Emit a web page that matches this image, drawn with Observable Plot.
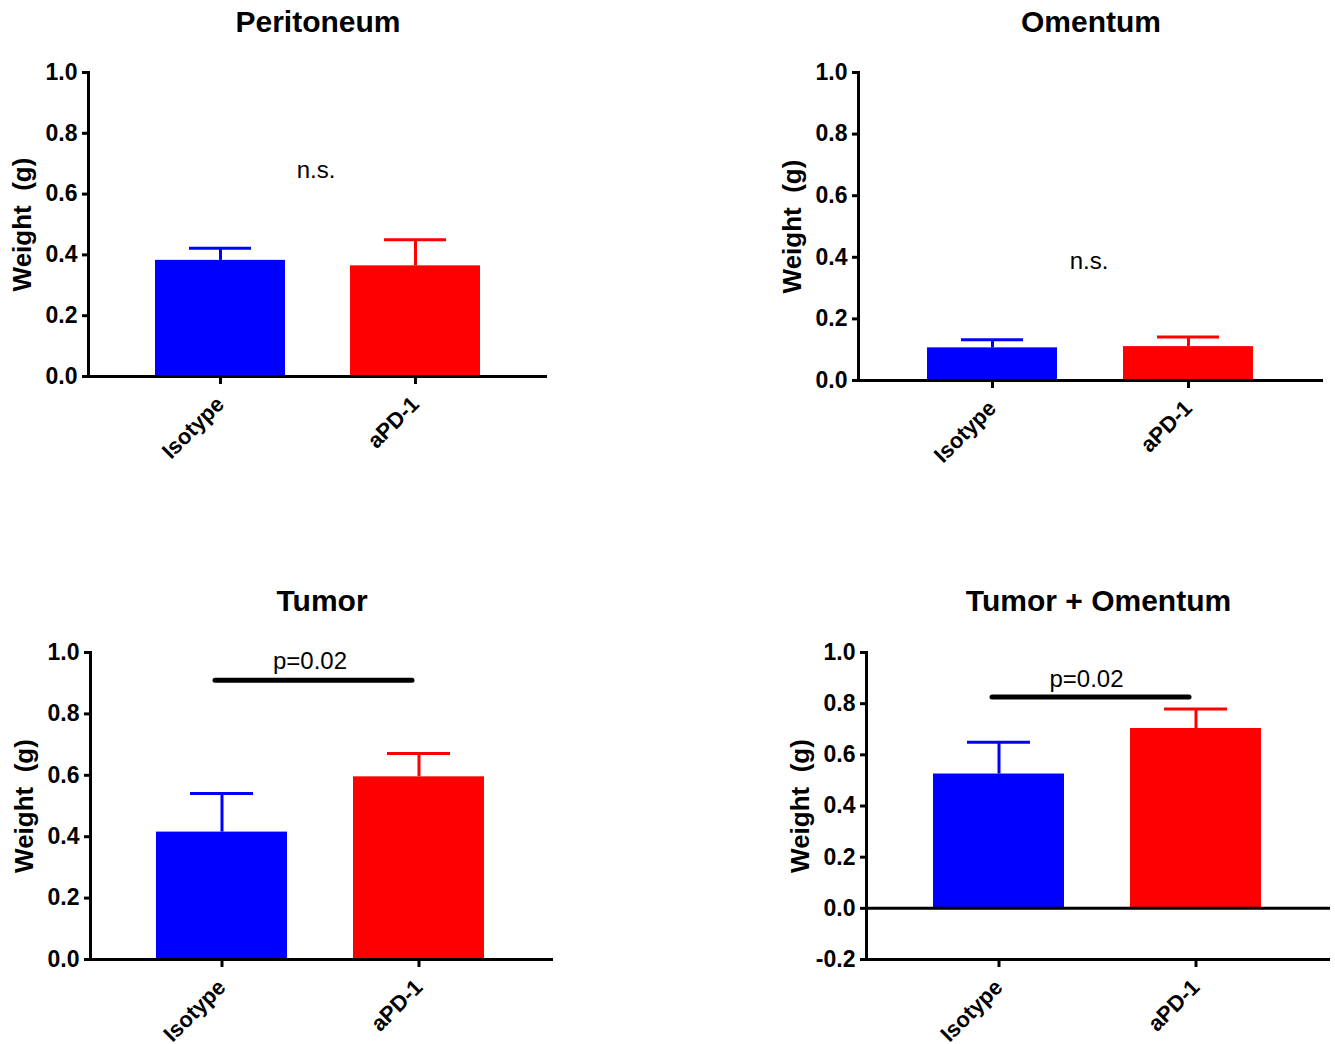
<!DOCTYPE html>
<html><head><meta charset="utf-8">
<script src="https://cdn.jsdelivr.net/npm/d3@7"></script>
<script src="https://cdn.jsdelivr.net/npm/@observablehq/plot@0.6"></script>
<style>
body{margin:0;background:#fff;}
#chart{position:relative;width:1335px;height:1044px;background:#fff;}
#chart svg{position:absolute;}
#chart svg text{white-space:pre;}
</style></head><body><div id="chart"></div>
<script>
const groups = ["Isotype", "aPD-1"];
const colors = ["#0000ff", "#ff0000"];
const titles = ["Peritoneum", "Omentum", "Tumor", "Tumor + Omentum"];
const yLabel = "Weight  (g)";
const peritoneumMean = [0.382, 0.364];
const peritoneumErr = [0.040, 0.086];
const omentumMean = [0.106, 0.110];
const omentumErr = [0.026, 0.031];
const tumorMean = [0.415, 0.595];
const tumorErr = [0.126, 0.076];
const tumorOmentumMean = [0.525, 0.703];
const tumorOmentumErr = [0.124, 0.076];
const yTicksA = [0, 0.2, 0.4, 0.6, 0.8, 1.0];
const yTicksB = [-0.2, 0, 0.2, 0.4, 0.6, 0.8, 1.0];
const annText = ["n.s.", "n.s.", "p=0.02", "p=0.02"];
const annY = [0.678, 0.386, 0.97, 0.896];
const sigY = [null, null, 0.91, 0.826];

const panels = [
  {mean: peritoneumMean, err: peritoneumErr, ticks: yTicksA, left: 0, top: 0, width: 560, height: 480, ml: 88, mr: 13, mt: 72, mb: 104, range: [154, 480], tdy: -50},
  {mean: omentumMean, err: omentumErr, ticks: yTicksA, left: 770, top: 0, width: 565, height: 480, ml: 88, mr: 12, mt: 72, mb: 100, range: [156, 484], tdy: -50},
  {mean: tumorMean, err: tumorErr, ticks: yTicksA, left: 0, top: 580, width: 560, height: 464, ml: 90, mr: 7, mt: 72, mb: 85, range: [156, 485], tdy: -51},
  {mean: tumorOmentumMean, err: tumorOmentumErr, ticks: yTicksB, left: 770, top: 580, width: 565, height: 464, ml: 96, mr: 5, mt: 72, mb: 85, range: [163, 492], tdy: -51}
];

const chart = document.getElementById("chart");
panels.forEach((p, k) => {
  const rows = groups.map((g, i) => ({group: g, mean: p.mean[i], top: p.mean[i] + p.err[i], color: colors[i]}));
  const ymin = p.ticks[0], ymax = p.ticks[p.ticks.length - 1];
  const ann = [{text: annText[k], y: annY[k], sig: sigY[k]}];
  const marks = [
    Plot.barY(rows, {x: "group", y: "mean", fill: "color"}),
    Plot.ruleX(rows, {x: "group", y1: "mean", y2: "top", stroke: "color", strokeWidth: 3}),
    Plot.tickY(rows, {x: "group", y: "top", stroke: "color", strokeWidth: 3, insetLeft: 34, insetRight: 34}),
    Plot.ruleY([ymin], {strokeWidth: 3}),
    ymin < 0 ? Plot.ruleY([0], {strokeWidth: 3}) : null,
    Plot.frame({anchor: "left", strokeWidth: 3}),
    Plot.axisY({ticks: p.ticks, tickFormat: d => d.toFixed(1), tickSize: 6, tickPadding: 5, strokeWidth: 3, label: null, fontSize: 23, fontWeight: "bold"}),
    Plot.axisX({tickSize: 8, tickPadding: 16, tickRotate: -45, strokeWidth: 3, label: null, fontSize: 22, fontWeight: "bold"}),
    Plot.text([titles[k]], {frameAnchor: "top", lineAnchor: "middle", dy: p.tdy, fontSize: 30, fontWeight: "bold"}),
    Plot.text([yLabel], {frameAnchor: "left", textAnchor: "middle", lineAnchor: "middle", rotate: -90, dx: -66, fontSize: 26, fontWeight: "bold"}),
    Plot.text(ann, {y: "y", text: "text", fontSize: 24, fontWeight: "normal", dx: k >= 2 ? -12 : -2}),
    sigY[k] != null ? Plot.link(ann, {x1: () => groups[0], x2: () => groups[1], y1: "sig", y2: "sig", dx: -7, strokeWidth: 5, strokeLinecap: "round", stroke: "black"}) : null
  ].filter(Boolean);
  const svg = Plot.plot({
    width: p.width, height: p.height,
    marginLeft: p.ml, marginRight: p.mr, marginTop: p.mt, marginBottom: p.mb,
    style: {fontFamily: "'Liberation Sans', Arial, sans-serif", fontSize: "21px", color: "black", background: "transparent", overflow: "visible"},
    x: {domain: groups, range: p.range, paddingInner: 0.335, paddingOuter: 0, label: null},
    y: {domain: [ymin, ymax], label: null},
    marks
  });
  svg.style.left = p.left + "px";
  svg.style.top = p.top + "px";
  chart.appendChild(svg);
});
</script>
</body></html>
